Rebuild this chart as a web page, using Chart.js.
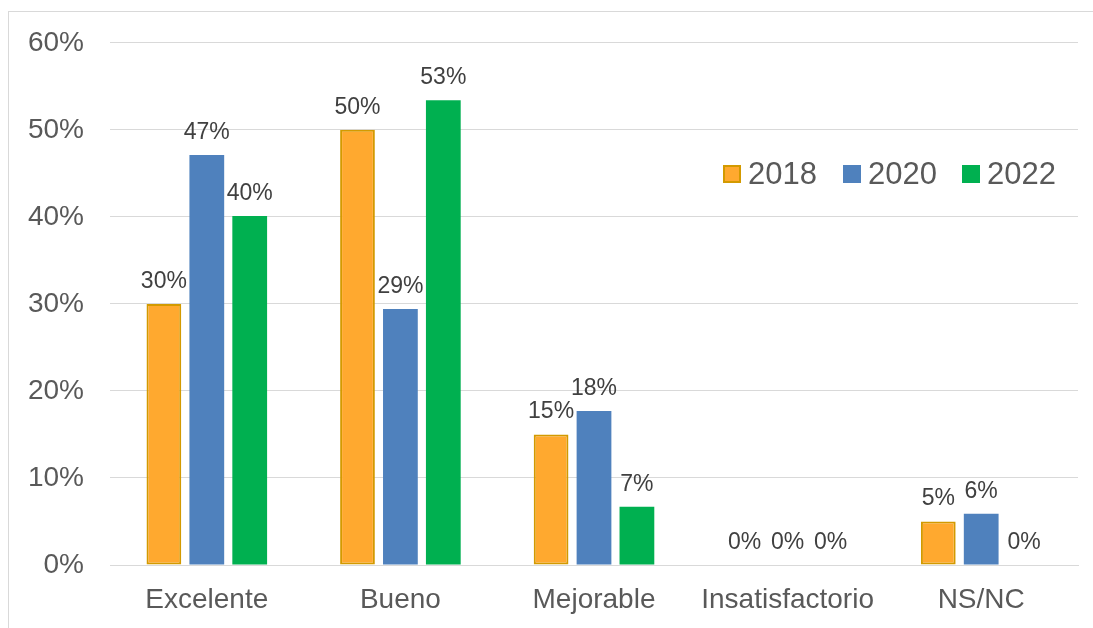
<!DOCTYPE html>
<html>
<head>
<meta charset="utf-8">
<script src="https://cdn.jsdelivr.net/npm/chart.js@4/dist/chart.umd.min.js"></script>
<style>
  html, body { margin: 0; padding: 0; background: #fff; overflow: hidden; }
  #wrap { position: absolute; left: 0; top: 0; width: 1093px; height: 628px; }
  #frame { position: absolute; left: 8px; top: 11px; width: 1200px; height: 700px; border-left: 1px solid #d9d9d9; border-top: 1px solid #d9d9d9; }
  canvas { position: absolute; left: 0; top: 0; }
</style>
</head>
<body>
<div id="wrap">
  <div id="frame"></div>
  <canvas id="c" width="1093" height="628"></canvas>
</div>
<script>
const categories = ["Excelente", "Bueno", "Mejorable", "Insatisfactorio", "NS/NC"];
const seriesNames = ["2018", "2020", "2022"];
const values2018 = [30, 50, 15, 0, 5];
const values2020 = [47.1, 29.4, 17.7, 0, 5.9];
const values2022 = [40.1, 53.4, 6.7, 0, 0];
const yTicks = [0, 10, 20, 30, 40, 50, 60];

const fills = ["#FFA92F", "#4F81BD", "#00B050"];
const borders = ["#D39A00", "#4F81BD", "#00B050"];
const allValues = [values2018, values2020, values2022];

const dataLabels = {
  id: 'dataLabels',
  afterDatasetsDraw(chart) {
    const ctx = chart.ctx;
    ctx.save();
    ctx.font = '23px "Liberation Sans", Arial, sans-serif';
    ctx.fillStyle = '#404040';
    ctx.textAlign = 'center';
    ctx.textBaseline = 'alphabetic';
    chart.data.datasets.forEach((ds, i) => {
      const meta = chart.getDatasetMeta(i);
      meta.data.forEach((bar, j) => {
        const v = ds.data[j];
        ctx.fillText(Math.round(v) + '%', bar.x, bar.y - 16);
      });
    });
    ctx.restore();
  }
};

const customLegend = {
  id: 'customLegend',
  afterDraw(chart) {
    const ctx = chart.ctx;
    ctx.save();
    ctx.font = '31px "Liberation Sans", Arial, sans-serif';
    ctx.textBaseline = 'middle';
    ctx.textAlign = 'left';
    const xs = [723, 843, 962];
    const yc = 174;
    chart.data.datasets.forEach((ds, i) => {
      const x = xs[i];
      ctx.fillStyle = ds.backgroundColor;
      ctx.fillRect(x, yc - 9, 18, 18);
      if (i === 0) {
        ctx.strokeStyle = ds.borderColor;
        ctx.lineWidth = 2;
        ctx.strokeRect(x + 1, yc - 8, 16, 16);
      }
      ctx.fillStyle = '#595959';
      ctx.fillText(ds.label, x + 25, yc + 1);
    });
    ctx.restore();
  }
};

new Chart(document.getElementById('c'), {
  type: 'bar',
  data: {
    labels: categories,
    datasets: seriesNames.map((name, i) => ({
      label: name,
      data: allValues[i],
      backgroundColor: fills[i],
      borderColor: borders[i],
      borderWidth: i === 0 ? 2 : 0,
      borderSkipped: false,
      categoryPercentage: 0.665,
      barPercentage: 0.81
    }))
  },
  options: {
    responsive: false,
    animation: false,
    devicePixelRatio: 1,
    layout: { padding: { top: 41, right: 15, bottom: 0, left: 0 } },
    plugins: { legend: { display: false }, tooltip: { enabled: false } },
    scales: {
      x: {
        grid: { display: false, drawTicks: false },
        border: { display: true, color: '#d9d9d9', width: 1 },
        ticks: { color: '#595959', font: { family: '"Liberation Sans", Arial, sans-serif', size: 28 }, padding: 18, maxRotation: 0 },
        afterFit(scale) { scale.height = 63; }
      },
      y: {
        min: 0, max: 60,
        afterBuildTicks(scale) { scale.ticks = yTicks.map(v => ({ value: v })); },
        grid: { color: '#d9d9d9', lineWidth: 1, drawTicks: false },
        border: { display: false },
        ticks: {
          color: '#595959',
          font: { family: '"Liberation Sans", Arial, sans-serif', size: 28 },
          padding: 26,
          callback: v => v + '%'
        },
        afterFit(scale) { scale.width = 110; }
      }
    }
  },
  plugins: [dataLabels, customLegend]
});
</script>
</body>
</html>
